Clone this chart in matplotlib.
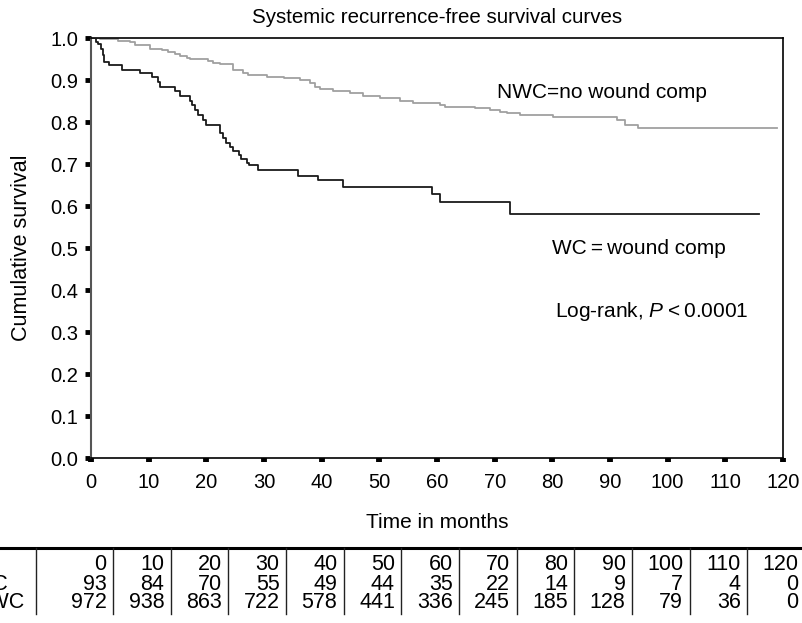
import matplotlib
matplotlib.use("Agg")
import matplotlib.pyplot as plt
import matplotlib.transforms as mtransforms
from matplotlib.lines import Line2D

plt.rcParams['font.family'] = ['Liberation Sans', 'DejaVu Sans']
plt.rcParams['mathtext.fontset'] = 'custom'
plt.rcParams['mathtext.it'] = 'Liberation Sans:italic'
plt.rcParams['mathtext.rm'] = 'Liberation Sans'

# ---- data ----
wc_time = [0, 0.8, 1.3, 1.7, 2.0, 2.3, 3.2, 5.4, 8.5, 10.5, 11.6, 12.0, 14.6, 15.5,
           17.2, 17.6, 18.0, 18.6, 19.5, 19.9, 22.4, 22.9, 23.4, 24.1, 24.6, 25.6,
           26.0, 27.0, 27.4, 28.9, 35.9, 39.4, 43.7, 59.1, 60.6, 72.7, 115.9]
wc_surv = [1.0, 0.990, 0.985, 0.975, 0.960, 0.944, 0.935, 0.924, 0.917, 0.908, 0.896,
           0.884, 0.873, 0.862, 0.851, 0.840, 0.829, 0.817, 0.805, 0.793, 0.774, 0.762,
           0.750, 0.741, 0.730, 0.721, 0.712, 0.702, 0.698, 0.686, 0.672, 0.661, 0.645,
           0.628, 0.610, 0.580, 0.580]

nwc_time = [0, 1.5, 4.7, 6.8, 7.6, 10.2, 12.3, 13.4, 14.6, 15.4, 16.6, 17.2, 20.3, 21.2,
            22.4, 24.7, 26.4, 27.3, 30.5, 33.5, 36.3, 38.0, 38.8, 39.7, 41.9, 44.9, 47.2,
            50.1, 53.6, 55.9, 60.5, 61.4, 66.6, 69.2, 70.9, 72.1, 74.4, 80.2, 91.2, 92.6,
            94.9, 119.0]
nwc_surv = [1.0, 0.998, 0.992, 0.990, 0.983, 0.975, 0.972, 0.967, 0.962, 0.957, 0.953,
            0.949, 0.945, 0.941, 0.937, 0.924, 0.917, 0.913, 0.908, 0.904, 0.900, 0.893,
            0.883, 0.878, 0.875, 0.870, 0.862, 0.856, 0.850, 0.845, 0.840, 0.836, 0.833,
            0.829, 0.825, 0.821, 0.817, 0.813, 0.805, 0.793, 0.785, 0.785]

table_times = [0, 10, 20, 30, 40, 50, 60, 70, 80, 90, 100, 110, 120]
wc_at_risk = [93, 84, 70, 55, 49, 44, 35, 22, 14, 9, 7, 4, 0]
nwc_at_risk = [972, 938, 863, 722, 578, 441, 336, 245, 185, 128, 79, 36, 0]
row_labels = ["WC", "NWC"]

W, H = 803, 623
fig = plt.figure(figsize=(W / 100, H / 100), dpi=100)
ax = fig.add_axes([91 / W, 1 - 458 / H, (783 - 91) / W, (458 - 38) / H])

ax.step(wc_time, wc_surv, where='post', color='#1a1a1a', lw=1.3)
ax.step(nwc_time, nwc_surv, where='post', color='#a0a0a0', lw=1.3)

ax.set_xlim(0, 120)
ax.set_ylim(0, 1.0)
ax.set_xticks(table_times)
ax.set_yticks([i / 10 for i in range(11)])
ax.set_yticklabels([f"{i/10:.1f}" for i in range(11)])
ax.tick_params(axis='y', direction='out', length=4, width=3.5, labelsize=14.5, pad=5.4)
ax.tick_params(axis='x', direction='out', length=3, width=4.2, labelsize=14.5, pad=7.5)
for s in ['top', 'right', 'bottom']:
    ax.spines[s].set_color('black')
    ax.spines[s].set_linewidth(1.2)
ax.spines['left'].set_color('#555555')
ax.spines['left'].set_linewidth(1.5)

ax.set_title("Systemic recurrence-free survival curves", fontsize=14.8, pad=11)
fig.text(22 / W, 1 - 248 / H, "Cumulative survival", fontsize=15.5, rotation=90,
         ha='center', va='center')

ax.text(70.4, 0.871, "NWC=no wound comp", fontsize=15, va='center', ha='left')
ax.text(79.9, 0.50, "WC\u2009=\u2009wound comp", fontsize=15, va='center', ha='left')
ax.text(80.5, 0.348, "Log-rank, $P$\u2009<\u20090.0001", fontsize=15, va='center', ha='left')

fig.text(437 / W, 1 - 523 / H, "Time in months", fontsize=15, ha='center', va='center')

# ---- at-risk table ----
bt = mtransforms.blended_transform_factory(ax.transData, fig.transFigure)
def fy(p):
    return 1 - p / H

col_edges = [-9.5] + [t + 3.8 for t in table_times]
xl = -20
xr = 130
fig.add_artist(Line2D([xl, xr], [fy(548), fy(548)], transform=bt, color='black', lw=2.2))
for e in col_edges:
    fig.add_artist(Line2D([e, e], [fy(548), fy(614)], transform=bt, color='#222222', lw=1.0))

row_centers = [564, 584, 603]
tfs = 15.5
for t, e in zip(table_times, col_edges[1:]):
    fig.text(e - 1.1, fy(row_centers[0]), str(t), transform=bt, ha='right', va='center', fontsize=tfs)
for v, e in zip(wc_at_risk, col_edges[1:]):
    fig.text(e - 1.1, fy(row_centers[1]), str(v), transform=bt, ha='right', va='center', fontsize=tfs)
for v, e in zip(nwc_at_risk, col_edges[1:]):
    fig.text(e - 1.1, fy(row_centers[2]), str(v), transform=bt, ha='right', va='center', fontsize=tfs)
for lab, rc in zip(row_labels, row_centers[1:]):
    fig.text(-20.4, fy(rc), lab, transform=bt, ha='left', va='center', fontsize=tfs)

fig.savefig("out.png", dpi=100)
